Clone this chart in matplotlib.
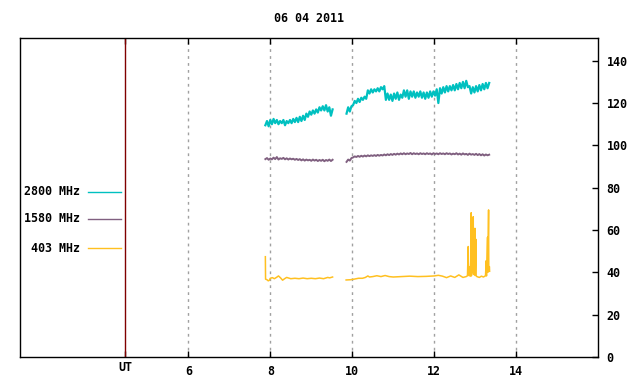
import numpy as np
import matplotlib
matplotlib.use("Agg")
import matplotlib.pyplot as plt

title = "06 04 2011"
series_names = ["2800 MHz", "1580 MHz", "403 MHz"]
series_colors = ["#00c0c0", "#806080", "#ffc020"]

# 2800 MHz, sampled every 0.04 h
f2800_a_start, f2800_a_end = 7.88, 9.52
f2800_a = [109.5, 111.5, 109, 112, 110, 112.5, 110.5, 112, 110, 111.5,
           110.5, 112, 109.5, 111.5, 110.5, 112, 110.5, 112.5, 111, 113,
           111, 113.5, 111.5, 114, 112, 115, 113.5, 116, 114.5, 116.5,
           115, 117, 115.5, 118, 116.5, 118.5, 116.5, 119, 116, 118,
           114, 117]
f2800_b_start, f2800_b_end = 9.86, 13.34
f2800_b = [115, 118, 116, 118.5, 119, 121, 120, 122, 120.5, 122.5,
           121.5, 123, 122, 126, 124.5, 126.5, 125, 126.5, 125.5, 127,
           125.5, 127.5, 126.5, 128, 121.5, 124.5, 121.5, 124, 121, 124.5,
           122, 125, 121.5, 124, 122.5, 126, 123, 126, 122, 125.5,
           123, 125.5, 122.5, 125, 123, 125.5, 122.5, 125, 122, 125,
           122.5, 125.5, 123, 125.5, 123.5, 126.5, 120, 127, 124.5, 127.5,
           125, 128, 125.5, 128, 126, 128.5, 126, 129, 126.5, 129.5,
           127, 130, 127, 130.5, 127.5, 128, 124.5, 127.5, 125, 128,
           125.5, 128.5, 126, 129, 126.5, 129.5, 127, 129.5]

# 1580 MHz, same sampling
f1580_a = [93.5, 94, 93.2, 93.8, 93.4, 94.2, 93.5, 94.5, 93.3, 93.9,
           93.6, 94.1, 93.4, 93.9, 93.3, 93.8, 93.4, 93.7, 93.2, 93.6,
           93.1, 93.5, 92.9, 93.4, 92.8, 93.3, 92.9, 93.2, 92.7, 93.3,
           92.8, 93.2, 92.6, 93.1, 92.7, 93.2, 92.5, 93.1, 92.7, 93.3,
           92.6, 93.2]
f1580_b = [92.2, 93.3, 92.8, 94, 94.3, 94.8, 94.5, 95, 94.6, 95.1,
           94.7, 95.2, 94.8, 95.3, 94.9, 95.3, 95, 95.4, 95, 95.5,
           95.1, 95.5, 95.2, 95.7, 95.3, 95.8, 95.4, 95.9, 95.5, 96,
           95.6, 96.1, 95.7, 96.2, 95.8, 96.3, 95.8, 96.2, 95.9, 96.4,
           95.8, 96.3, 95.9, 96.2, 95.8, 96.3, 95.9, 96.2, 95.8, 96.3,
           95.9, 96.2, 95.7, 96.3, 95.9, 96.2, 95.8, 96.3, 95.9, 96.2,
           95.8, 96.3, 95.9, 96.2, 95.7, 96.1, 95.8, 96.3, 95.7, 96.1,
           95.6, 96.2, 95.7, 96, 95.5, 96.1, 95.6, 95.9, 95.5, 96,
           95.4, 95.9, 95.3, 95.8, 95.2, 95.7, 95.3, 95.6]

# 403 MHz, irregular samples
f403_a_t = [7.880, 7.885, 7.92, 7.95, 7.98, 8.0, 8.05, 8.10, 8.15, 8.20,
            8.25, 8.30, 8.35, 8.40, 8.45, 8.50, 8.60, 8.70, 8.80, 8.90,
            9.00, 9.10, 9.20, 9.30, 9.40, 9.45, 9.52]
f403_a = [47.4, 36.8, 36.5, 36.0, 36.3, 37.2, 37.5, 37.0, 37.6, 38.3,
          37.4, 36.3, 37.0, 37.6, 37.3, 37.0, 37.2, 37.0, 37.3, 37.0,
          37.2, 37.0, 37.3, 37.0, 37.6, 37.4, 37.8]
f403_b_t = [9.85, 9.95, 10.05, 10.15, 10.25, 10.32, 10.38, 10.42, 10.5, 10.6,
            10.7, 10.8, 10.9, 11.0, 11.2, 11.4, 11.6, 11.8, 12.0, 12.1,
            12.2, 12.3, 12.4, 12.5, 12.6, 12.7, 12.78, 12.81, 12.829, 12.835,
            12.87, 12.875, 12.89, 12.902, 12.906, 12.918, 12.924, 12.935, 12.951, 12.957,
            12.97, 12.992, 12.998, 13.016, 13.022, 13.04, 13.1, 13.15, 13.2, 13.25,
            13.268, 13.274, 13.30, 13.306, 13.325, 13.33, 13.345, 13.35]
f403_b = [36.4, 36.5, 36.8, 37.2, 37.2, 37.6, 38.3, 37.8, 38.0, 38.4,
          38.0, 38.5, 38.0, 37.8, 38.0, 38.2, 38.0, 38.1, 38.3, 38.6,
          38.2, 37.5, 38.3, 37.6, 38.8, 37.6, 38.0, 38.4, 52.2, 38.5,
          42.7, 38.2, 45.0, 68.2, 38.3, 56.9, 40.0, 50.0, 66.3, 39.0,
          48.0, 60.8, 38.5, 55.6, 38.4, 38.0, 37.6, 38.2, 37.8, 38.4,
          45.5, 38.3, 56.6, 40.0, 69.5, 41.0, 42.7, 40.5]

ut_pos = 4.46
xticks = [6, 8, 10, 12, 14]
yticks = [0, 20, 40, 60, 80, 100, 120, 140]

plt.rcParams['font.family'] = ['DejaVu Sans Mono']
plt.rcParams['font.weight'] = 'bold'
plt.rcParams['font.size'] = 8.4

fig = plt.figure(figsize=(6.4, 3.84), dpi=100)
ax = fig.add_axes([0.03125, 0.0703, 0.9035, 0.83])

ta = np.linspace(f2800_a_start, f2800_a_end, len(f2800_a))
tb = np.linspace(f2800_b_start, f2800_b_end, len(f2800_b))
ax.plot(ta, f2800_a, color=series_colors[0], lw=1.6)
ax.plot(tb, f2800_b, color=series_colors[0], lw=1.6)
ax.plot(ta, f1580_a, color=series_colors[1], lw=1.4)
ax.plot(tb, f1580_b, color=series_colors[1], lw=1.4)
ax.plot(f403_a_t, f403_a, color=series_colors[2], lw=1.1)
ax.plot(f403_b_t, f403_b, color=series_colors[2], lw=1.1)

# grid and UT marker
for x in xticks:
    ax.axvline(x, color="#a0a0a0", lw=1.0, ls=(0, (2, 3)), zorder=0)
ax.axvline(ut_pos, color="#800000", lw=1.0)

ax.set_xlim(1.895, 16.0)
ax.set_ylim(0, 150.6)

ax.set_xticks([ut_pos] + xticks)
ax.set_xticklabels(["UT"] + [str(x) for x in xticks])
ax.tick_params(axis="x", direction="in", length=4, top=True, bottom=True,
               width=1, pad=6)
ax.xaxis.get_major_ticks()[0].set_pad(3)
ax.yaxis.tick_right()
ax.set_yticks(yticks)
ax.tick_params(axis="y", direction="in", length=4, left=False, right=True,
               width=1, pad=6)
for s in ax.spines.values():
    s.set_linewidth(1.0)

# legend on the left
leg_y = [0.5187, 0.433, 0.342]
for name, col, yy in zip(series_names, series_colors, leg_y):
    ax.plot([0.1176, 0.1746], [yy, yy], color=col, lw=1.0, transform=ax.transAxes)
    ax.text(0.1037, yy, name, ha="right", va="center", transform=ax.transAxes)

fig.text(0.483, 0.951, title, ha="center", va="center")

fig.savefig("out.png", dpi=100)
